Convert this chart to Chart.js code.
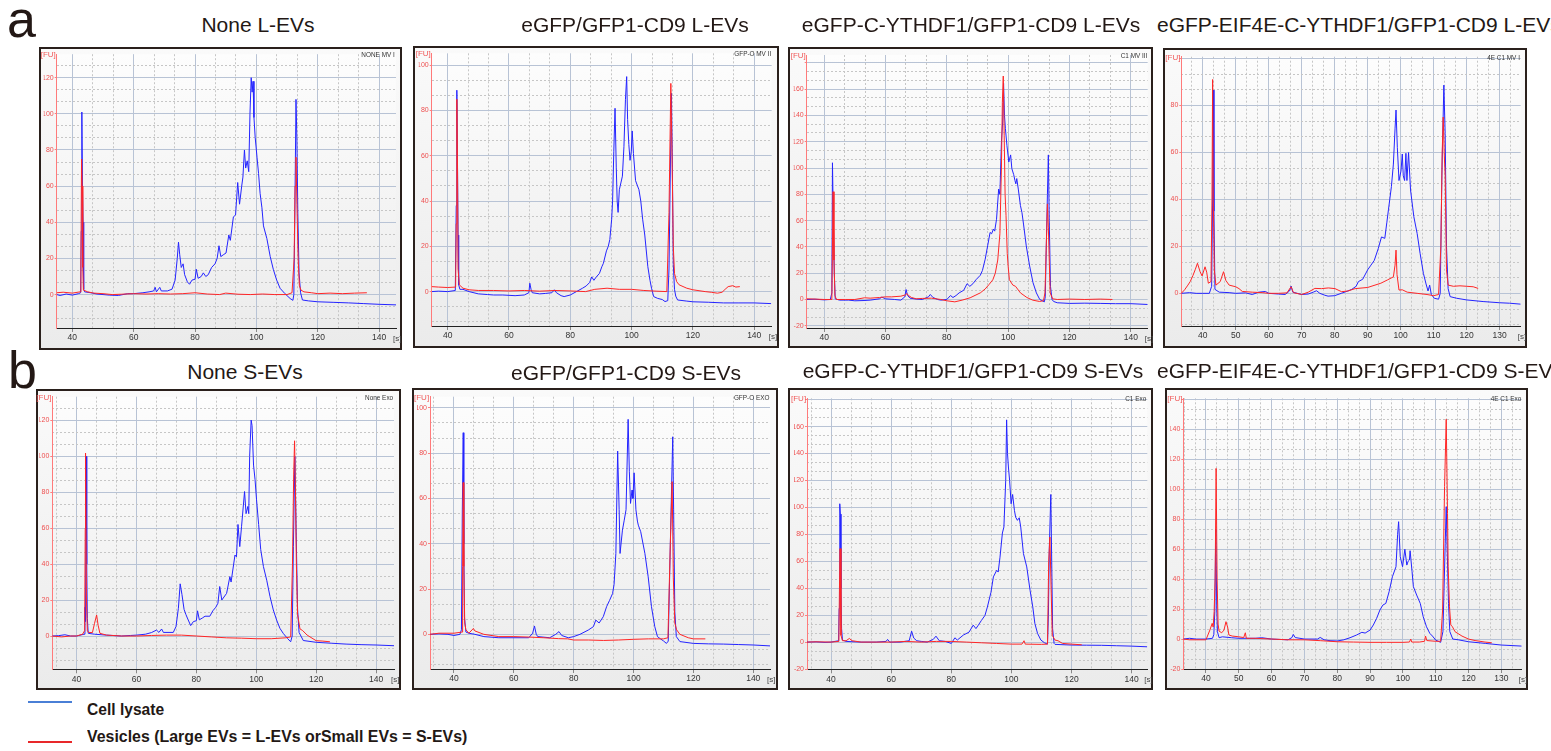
<!DOCTYPE html>
<html>
<head>
<meta charset="utf-8">
<script src="https://cdn.jsdelivr.net/npm/chart.js@4.4.1/dist/chart.umd.min.js"></script>
<style>
body{margin:0;width:1551px;height:751px;background:#fff;position:relative;overflow:hidden;font-family:"Liberation Sans",Arial,sans-serif}
.frame{position:absolute;border:2px solid #2a201c;box-sizing:border-box;background:linear-gradient(#fafafa,#ebebeb)}
.frame canvas{position:absolute;left:0;top:0}
.title{position:absolute;font-size:21px;line-height:21px;color:#231815;white-space:nowrap}
.letter{position:absolute;font-size:52px;line-height:52px;color:#231815}
.small{position:absolute;font-family:"Liberation Sans",sans-serif;font-size:8px;line-height:8px;white-space:nowrap}
.tag{color:#333;transform-origin:right top;transform:scaleX(0.8)}
.fu{color:#f05a5a}
.sec{color:#444}
.leg{position:absolute;font-weight:bold;font-size:17px;line-height:17px;color:#231815;white-space:nowrap;transform-origin:left top}
.legline{position:absolute;height:2px;width:44px;left:28px}
</style>
</head>
<body>
<div class="letter" style="left:7px;top:-7px">a</div>
<div class="letter" style="left:8px;top:344px">b</div>
<div class="legline" style="top:701px;background:#4a7fd6"></div>
<div class="legline" style="top:741px;background:#e8282a"></div>
<div class="leg" id="leg1" style="left:87px;top:701px">Cell lysate</div>
<div class="leg" id="leg2" style="left:87px;top:728px">Vesicles (Large EVs = L-EVs orSmall EVs = S-EVs)</div>
<script>
// tick labels
const xTicks20 = [40, 60, 80, 100, 120, 140];
const xTicks10 = [40, 50, 60, 70, 80, 90, 100, 110, 120, 130];
const yTicks120 = [0, 20, 40, 60, 80, 100, 120];
const yTicks100 = [0, 20, 40, 60, 80, 100];
const yTicks160 = [-20, 0, 20, 40, 60, 80, 100, 120, 140, 160];
const yTicks80 = [0, 20, 40, 60, 80];
const yTicks140 = [-20, 0, 20, 40, 60, 80, 100, 120, 140];

// [time s, FU]
const lysateNoneL = [[34.9,0],[36,-0.5],[38,0.3],[40,-0.3],[42,0.5],[42.7,1],[42.9,35],[43.1,101],[43.3,60],[43.5,40],[43.7,3],[44,1.5],[46,1],[48,0.3],[50,0],[52,-0.3],[55,-0.5],[58,0.5],[60,0.5],[63,1],[65,1.5],[66.5,2],[67,4],[67.4,1.5],[68.5,4],[69,2],[71,2],[72.5,3],[73.5,8],[74.2,20],[74.6,29],[75,22],[75.5,15],[76.1,17],[76.6,11],[77.5,7],[78.2,5.7],[79,8],[80,8.5],[80.4,14],[81,9],[82,10],[82.7,12],[83.5,10],[84.3,11],[85.4,15],[86.5,17],[87.2,20],[87.8,27],[88.4,21],[89.2,22],[90.1,23],[91,33],[91.5,30],[92.5,43],[93.2,44],[93.9,62],[94.5,50],[95.2,60],[95.6,65],[96.1,80],[96.5,70],[97,74],[97.5,68],[97.9,100],[98.3,120],[98.6,112],[98.9,118],[99.2,98],[99.6,87],[100.2,76],[100.7,67],[101.2,56],[101.8,48],[102.3,38],[103.4,31],[104.5,21],[105.5,14],[106.6,8],[107.7,3.5],[109.3,0.5],[111,-2.2],[111.9,-3.2],[112.2,0],[112.5,40],[112.9,108],[113.2,85],[113.5,45],[113.9,12],[114.4,1],[115,-3],[117,-3.5],[120,-4],[125,-4.3],[130,-4.6],[135,-5],[140,-5.4],[145.5,-5.7]];
const vesicleNoneL = [[34.9,1],[37,1.3],[40,0.8],[42.5,1.5],[42.8,20],[43,75],[43.2,60],[43.4,15],[43.6,2.5],[45,1.5],[47,0.8],[50,0.5],[53,0],[56,0.2],[60,0.5],[64,0.3],[68,0.5],[72,0.3],[76,0.5],[80,1],[84,0.3],[88,0],[90,0.8],[94,0.2],[98,0],[102,0.3],[106,0],[110,0],[111.6,1],[112.3,20],[112.6,60],[112.9,76],[113.2,50],[113.6,20],[114,5],[114.5,2.5],[115.5,1.5],[118,1],[120,0.5],[124,0.8],[128,0.5],[132,0.8],[136,1]];

const lysateGfpL = [[34.8,0],[37,0.2],[40,0],[42.5,0.5],[42.8,38],[43,89],[43.2,60],[43.4,25],[43.6,3],[44,1],[45,1],[47,0],[50,-1],[53,-1.3],[55,-1.5],[58,-1.5],[62,-1.8],[65,-1.5],[66.5,-0.5],[66.8,3.7],[67.2,1],[67.6,-0.5],[70,-1],[72,-0.8],[74,-0.5],[74.8,0.8],[75.5,-0.5],[77,-1.8],[78,-2.2],[80,-1.5],[82,0],[84,1.5],[85.2,2.5],[86.3,4],[87,6.5],[87.7,5],[88.5,6.5],[89.5,8],[90.3,11],[90.8,12.5],[91.8,18],[92.4,20],[92.9,23],[93.5,32],[93.8,40],[94.2,62],[94.6,81],[95,55],[95.3,40],[95.6,35],[96,45],[96.5,48],[97,51],[97.5,64],[98,85],[98.4,95],[98.7,76],[99.1,65],[99.5,58],[99.9,62],[100.2,71],[100.6,61],[101.3,49],[102.4,45],[103,40],[103.6,32],[104.3,25],[105.3,11],[106,5],[106.5,1.5],[107.2,-2.2],[108.5,-3],[110,-3.5],[110.9,-4.4],[111.8,-4],[112.2,10],[112.5,40],[113,87.6],[113.3,55],[113.6,12],[114,1],[114.4,-2],[115,-3.7],[118,-4.2],[120,-4.5],[125,-4.7],[130,-5],[135,-5],[140,-5],[145.5,-5.3]];
const vesicleGfpL = [[34.8,2.2],[37,2],[40,1.8],[42.6,2],[42.8,30],[43,85],[43.2,60],[43.4,10],[43.8,3],[45,1.5],[47,0.8],[50,0.5],[55,0.5],[60,0.3],[65,0.5],[70,0.2],[75,0.5],[80,0.3],[85,0],[88,1],[92,1.5],[96,1],[100,1],[104,0.5],[108,0.2],[111.5,0],[112.2,35],[112.8,92],[113.2,60],[113.6,20],[114,8],[114.7,4.4],[115.5,3],[118,1.5],[120,0.8],[124,0],[126,-0.3],[128,-0.7],[129.5,-0.3],[130.5,1],[131.5,2.2],[133,2.6],[134,2],[135.3,2.2]];

const lysateC1L = [[34.3,0],[37,0.2],[40,-0.3],[42,0],[42.5,5],[42.7,104],[43,60],[43.3,20],[43.6,0.5],[45,-0.5],[48,-0.5],[50,-1],[53,-0.8],[55,-0.5],[58,0.5],[58.8,1.8],[60,0.5],[63,0],[65,-0.5],[66.3,2],[66.7,7.6],[67.2,3],[68,1],[70,0.3],[72,0],[74,2],[74.6,3.8],[75.5,1.5],[77,0],[78,-0.5],[80,0],[81.2,3],[82,1.5],[83,3],[84,5],[85.5,7],[86.6,12],[87.5,10],[88.5,12],[89.5,15],[90.9,18.4],[91.6,22],[92.5,30.6],[93.3,40.8],[94.1,51],[94.6,50],[95.2,53.6],[95.6,52],[96.2,61],[96.9,84],[97.3,80],[97.8,120],[98.2,135],[98.5,164.5],[98.8,140],[99.1,130],[99.6,117],[100.2,104.6],[100.8,110],[101.2,99.5],[101.8,95],[102.2,90.6],[102.5,88],[102.8,92],[103.3,84],[104,71.4],[104.5,66],[105,57.4],[105.9,40.8],[107,25.5],[108.1,12.8],[109.2,5],[110.3,0],[111.8,-1.8],[112.1,2],[112.4,37],[112.8,80],[113.1,110],[113.4,60],[113.8,10],[114.3,0],[114.8,-1.5],[116,-2.5],[120,-3],[125,-2.8],[130,-3],[135,-3.2],[140,-3.2],[145.5,-3.8]];
const vesicleC1L = [[34.3,0.5],[37,0.3],[40,0],[42.5,0],[42.7,40],[42.9,82],[43.2,30],[43.5,3],[44,0],[47,0],[50,0],[53.2,1.3],[55,1],[58,1.5],[60,2],[62,2],[65,2.5],[66.5,3.5],[67,4.5],[67.5,3],[68.5,1.5],[70,0.5],[72,0.8],[75,1],[78,0],[80,-1],[82.6,-1.8],[85,-0.5],[87.6,1.3],[90.9,5],[92.5,8],[93.8,11.5],[95,15],[95.8,20],[96.6,30],[97.3,50],[97.8,100],[98.1,150],[98.4,170],[98.7,125],[99,80],[99.3,64],[99.7,35],[100,25],[100.4,15],[101.5,11],[102.4,10],[104,5],[106.1,1.5],[108,-0.5],[110.2,-1.5],[111.5,-1],[112,5],[112.3,30],[112.8,72.7],[113.1,55],[113.4,30],[113.7,5],[114.5,0.5],[116,0],[120,0.3],[125,0],[130,0.3],[134,0]];

const lysate4eL = [[33.5,0],[36,0.3],[38,0],[40,0],[42,0],[42.7,3],[43.0,40],[43.2,86.5],[43.4,35],[43.7,1.7],[45,0.5],[48,0.3],[50,0],[53,0.2],[55,-0.5],[57,0.5],[59,0.8],[60,0],[63,-0.3],[65,-0.5],[66.3,1],[66.8,3.1],[67.3,0.5],[70,-0.5],[72,-0.3],[73.5,0.5],[74.5,1.1],[75.5,0],[77,-0.8],[78,-1.2],[80,-1],[82,0],[84,1],[85.2,1.7],[86.5,3],[87.2,5],[88.5,6],[90,10],[91,12],[92,14],[93.2,19],[94.2,24],[95.2,23.4],[95.8,30],[96.3,35.5],[97.2,45.4],[97.8,55],[98.3,70],[98.6,78],[99,62],[99.5,48],[100.1,52],[100.5,59.3],[100.8,50],[101.2,48],[101.6,59.6],[101.9,48],[102.4,59.9],[103,44],[104,32.6],[105,25.5],[105.9,17],[106.9,8.5],[107.7,4],[108.3,1],[108.8,3.5],[109.3,-0.5],[110.2,-2.1],[111.5,-2.5],[112,0],[112.5,50],[113.1,88.6],[113.5,68],[113.9,20],[114.4,2],[115,-1.4],[117,-2.1],[120,-2.8],[125,-3.5],[130,-4],[133,-4.2],[136.4,-4.6]];
const vesicle4eL = [[33.5,0],[34.5,1.5],[35.5,3.5],[36.2,5],[37,7.5],[37.7,10],[38.4,12.8],[39.2,9.2],[39.8,7.4],[40.7,11.3],[41.2,9],[41.7,4.3],[42.5,5],[42.8,40],[43.0,91],[43.2,40],[43.5,10],[44,3.5],[45.3,5],[46.3,9.2],[47,5.5],[48,3.5],[50,2.8],[51,2],[52,0.8],[55,0.5],[58,0.3],[60,0],[63,0],[65.5,0.2],[66.8,2.8],[67.5,0.3],[70,-0.5],[72,0.5],[74,2.1],[76,2],[78.1,2.3],[80.1,2],[82.1,0.7],[84,1],[86.2,2],[90,2.5],[94,4.3],[96,5.7],[97.8,7],[98.3,12],[98.6,18.4],[98.9,8],[99.5,1.4],[100.5,1.5],[102,0.5],[105,0],[108,-0.5],[110,-1],[111.5,-0.5],[112.2,20],[112.6,60],[112.9,75],[113.2,60],[113.5,50],[113.9,10],[114.4,3.5],[116,3],[118,3.2],[120,3],[122,2.8],[123.5,2.1]];

const lysateNoneS = [[31.9,0],[34,0.2],[36.1,0.7],[38,0],[40,0],[42.5,1],[42.8,16],[43.0,8],[43.2,99.8],[43.4,40],[43.6,9.8],[43.9,1.5],[46,1],[50,0.5],[55,0],[58,0.3],[60,0.5],[63,1],[65,1.9],[66.7,3.3],[67.5,2],[68.4,3.9],[69,2],[72.3,2],[73.2,5.2],[74,15.4],[74.6,29],[75.2,23],[75.9,14.8],[76.5,12],[77,10],[78.1,5.8],[79,8],[80,8.5],[80.4,14],[81,9],[82,10],[82.9,11],[84.5,11],[85.5,14],[86.5,16],[87.2,18.2],[87.8,27.5],[88.5,20],[90.1,23.7],[91.2,33],[91.6,30],[92.9,45],[93.4,44],[93.9,62],[94.5,49.7],[95.1,61],[96.1,80.3],[96.6,68],[97.2,72],[97.5,68],[97.8,99.8],[98.3,120],[98.6,117],[99.1,95],[99.6,87],[100.1,75.7],[100.8,62],[101.5,48],[102.4,38.6],[103.5,31],[104.6,21.9],[105.7,14.5],[106.8,8.9],[107.9,4.3],[109,1.5],[110.4,-1.3],[111.5,-3.2],[112,0],[112.4,49.7],[112.9,99.8],[113.3,60],[113.8,15],[114.3,2],[115.7,-2.5],[120,-3.5],[125,-4],[130,-4.5],[135,-4.8],[140,-5],[146,-5.4]];
const vesicleNoneS = [[31.9,0],[35,-0.5],[38,0],[40,0],[42,1],[42.7,3],[42.9,60],[43.0,101.7],[43.3,20],[43.6,3],[44,2],[45.3,1.9],[46,7],[46.7,11.7],[47.2,6],[47.8,1.5],[50,0.5],[55,0],[60,0],[65,0.3],[70,0.5],[75,0.5],[80,0],[85,-0.5],[90,-1],[95,-1.2],[100,-1.5],[105,-1.5],[109.9,-1],[111.5,-0.5],[112.1,40],[112.5,90],[112.8,108.5],[113.1,80],[113.4,40],[113.8,12],[114.6,4],[115.5,3],[117,0.5],[120,-2.6],[122,-2.8],[124.6,-3.2]];

const lysateGfpS = [[32,0],[35,0.2],[38,0],[40,-0.5],[42,0],[42.5,2],[42.8,54.9],[43.1,89],[43.3,40],[43.5,7.8],[44,1],[45,0.5],[47,0],[50,-1],[55,-1.5],[60,-1.5],[65,-1.5],[66.3,0.5],[66.9,3.7],[67.5,0],[68,-1],[72,-1.5],[74,0],[75.1,1.2],[76,-0.5],[78.2,-1.5],[80,-1],[82.1,0],[84.9,1.9],[86.6,3.4],[87.4,6.3],[88.5,5],[89.9,7.8],[91,12.2],[92,15],[93,18],[93.5,22],[94.1,35.7],[94.7,80.9],[95.2,55],[95.5,35.7],[96.3,46],[96.9,50.4],[97.5,55],[98.2,94.9],[98.6,72],[99,57.8],[99.5,63.7],[99.8,60],[100.2,71.3],[100.8,55],[101.3,50],[101.6,48.2],[102.4,45.3],[103.8,35.7],[104.9,25.4],[106,12.2],[107.1,3.4],[108,-1],[109,-2],[110,-2.9],[111,-4],[111.6,-3],[112.3,40],[113.1,87.2],[113.4,55],[113.8,10],[114.3,-1],[115.5,-3.2],[120,-4],[125,-4.2],[130,-4.3],[135,-4.5],[140,-4.7],[145.6,-5.1]];
const vesicleGfpS = [[32,0],[35,0.5],[40,0.5],[42.7,1],[42.9,30],[43.1,67],[43.3,30],[43.6,5],[44,2],[45,0.5],[46.5,2.6],[47,1.5],[50,0],[55,-1],[60,-1],[65,-1.2],[70,-1.5],[75,-1.9],[78,-2],[80,-2.5],[85,-2.5],[90,-2.7],[95,-2.5],[100,-2.2],[105,-2],[110,-2],[111.5,-1.5],[112.3,40],[112.9,67.4],[113.3,25],[113.8,5],[114.4,2],[115.5,0],[118.3,-1.5],[120,-2],[124,-2]];

const lysateC1S = [[32,0],[35,0.2],[38,-0.2],[40,0],[42.5,1],[42.7,25],[42.9,102.7],[43.1,95],[43.3,40],[43.5,10],[43.8,1.5],[45,0.5],[48,0.2],[50,0],[55,0],[58.3,0.5],[58.8,2],[59.5,0],[63,0],[66,1],[66.8,8.1],[67.5,3],[68.5,1],[70,0.5],[72,0],[74,2],[74.9,4.4],[76,1],[78,0.5],[80,-1],[81.2,3.2],[82,1.5],[84,5.2],[85.9,7.4],[87.3,12.6],[88.2,10],[89,12.6],[90,16],[91.2,19.8],[92,26],[93.2,37],[94,48.4],[95.1,53.3],[95.6,52],[96.2,63],[97,81],[97.5,85.4],[98.1,120],[98.4,165],[98.7,140],[99,130],[99.4,120],[99.9,102.7],[100.4,109.6],[101,97.8],[101.4,92.8],[102,90.4],[102.6,92.3],[103.1,85.4],[104,65.7],[105.1,55.8],[106.2,38.5],[107.1,26.2],[107.8,13.8],[108.7,6.4],[109.8,1.5],[111,-0.5],[112,-1.5],[112.3,20],[112.6,69.4],[113.1,109.6],[113.4,60],[113.7,10],[114.2,-1],[114.5,-1.7],[120,-2.2],[125,-2.3],[130,-2.4],[135,-2.7],[140,-3],[145.2,-3.5]];
const vesicleC1S = [[32,0],[35,0.2],[40,0],[42.6,0.5],[42.8,40],[43.0,69.4],[43.3,5],[43.8,1],[45,1],[46.1,2.7],[47,1],[50,0],[55,0],[60,0],[65,0.5],[70,0],[75,0.5],[80,0.5],[85,0],[90,-0.5],[95,-1],[100,-1.5],[103.5,-1.5],[104.2,1],[104.6,-1.5],[110,-1.7],[112,-1.5],[112.4,60],[112.8,78],[113.2,40],[113.6,5],[114.5,1.5],[115.5,1],[117,-1],[120,-1.5],[123.4,-2]];

const lysate4eS = [[33.1,0],[35,0.5],[37,0],[40,0],[42,0.5],[42.4,3],[42.7,18.3],[43.0,73.3],[43.3,20],[43.5,4.9],[44,0.9],[45,1.5],[47.8,0.9],[50,0.5],[55,0.5],[57,0.9],[60,0],[65,-0.5],[66.2,1],[66.6,3.1],[67.2,1],[70,0],[74,0],[74.8,1.1],[76,-0.5],[77.8,-1.1],[80,-1.3],[82,-0.5],[83.9,0.9],[85.9,2.7],[87.5,4.5],[88.5,4],[90,6],[91,9.4],[92,13.8],[93,19.4],[93.9,22.7],[94.8,23.8],[95.8,31.6],[96.8,41.6],[97.9,48.3],[98.4,70],[98.7,78.4],[99.2,55],[99.9,48.3],[100.6,60],[101.2,49.4],[101.6,52],[102,52.8],[102.2,59],[102.8,45],[103.2,35],[104.2,29.4],[105.3,23.8],[106.2,14.9],[107.2,8.2],[108.2,3.8],[109,2],[110,-0.7],[111.5,-2.2],[112.2,5],[112.9,64],[113.2,88.4],[113.5,60],[113.9,23.8],[114.3,5],[115.2,0],[116.9,-0.5],[120,-1.8],[125.1,-2.9],[130,-4],[136.2,-4.7]];
const vesicle4eS = [[33.1,0],[35,-0.5],[40,-0.5],[41.2,6],[41.9,10.5],[42.2,8],[42.5,18.3],[42.8,40],[43.1,114],[43.4,40],[43.7,10],[44,5.3],[44.8,4.2],[45.5,6],[46.1,11.6],[46.6,8],[47,2.7],[48,2],[50,1.5],[51.5,1],[52,4.2],[52.3,0.5],[54.9,0.5],[60,0],[65,-0.5],[70,-0.5],[75,-1.1],[80,-1.8],[85,-2],[90,-2.2],[95,-2.2],[100,-2.2],[102,-2],[102.4,0],[102.7,-2],[105,-2],[106.6,-1.5],[106.9,2],[107.3,-1],[110,-1.5],[111.5,-1.5],[112.1,19.4],[112.7,101.8],[113.2,146.8],[113.6,84],[113.8,48.3],[114.2,21.6],[114.6,9.4],[115.1,8.2],[115.9,4.9],[118,2],[120,0],[122,-1],[125,-2],[127.1,-2.5]];

// panel layout: frame box [x,y,w,h], plot area [l,t,r,b] in page px
const panels = [
  {box:[39,47,363,303], area:[56.7,54,396,328], xr:[34.9,145.5], xStep:20, xLabels:xTicks20, yr:[-18.5,133], yLabels:yTicks120, blue:lysateNoneL, red:vesicleNoneL, title:'None L-EVs', tx:258, ty:14, tag:'NONE MV I'},
  {box:[413,46,366,302], area:[431.7,53.3,771.7,326], xr:[34.8,145.7], xStep:20, xLabels:xTicks20, yr:[-15.2,105.3], yLabels:yTicks100, blue:lysateGfpL, red:vesicleGfpL, title:'eGFP/GFP1-CD9 L-EVs', tx:635, ty:14, tag:'GFP-O MV II'},
  {box:[788,47,365,301], area:[806.7,55,1147.7,328], xr:[34.3,145.5], xStep:20, xLabels:xTicks20, yr:[-21.7,186], yLabels:yTicks160, blue:lysateC1L, red:vesicleC1L, title:'eGFP-C-YTHDF1/GFP1-CD9 L-EVs', tx:971, ty:14, tag:'C1 MV III'},
  {box:[1163,48,364,300], area:[1181.3,56.7,1520.7,326], xr:[33.5,136.4], xStep:10, xLabels:xTicks10, yr:[-13.9,100.7], yLabels:yTicks80, blue:lysate4eL, red:vesicle4eL, title:'eGFP-EIF4E-C-YTHDF1/GFP1-CD9 L-EVs', tl:1157, ty:14, tag:'4E C1 MV I'},
  {box:[36,389,365,301], area:[52.3,396.7,394,669.3], xr:[31.9,146], xStep:20, xLabels:xTicks20, yr:[-18.5,133], yLabels:yTicks120, blue:lysateNoneS, red:vesicleNoneS, title:'None S-EVs', tx:245, ty:361, tag:'None Exo'},
  {box:[412,388,366,302], area:[430,396.7,770,669], xr:[32,145.6], xStep:20, xLabels:xTicks20, yr:[-15.3,104.9], yLabels:yTicks100, blue:lysateGfpS, red:vesicleGfpS, title:'eGFP/GFP1-CD9 S-EVs', tx:626, ty:362, tag:'GFP-O EXO'},
  {box:[788,388,365,302], area:[807,398.3,1147.3,669.3], xr:[32,145.2], xStep:20, xLabels:xTicks20, yr:[-20.2,181], yLabels:yTicks160, blue:lysateC1S, red:vesicleC1S, title:'eGFP-C-YTHDF1/GFP1-CD9 S-EVs', tx:973, ty:360, tag:'C1 Exo'},
  {box:[1165,388,363,302], area:[1183.3,398.3,1521.7,669], xr:[33.1,136.2], xStep:10, xLabels:xTicks10, yr:[-20,160.8], yLabels:yTicks140, blue:lysate4eS, red:vesicle4eS, title:'eGFP-EIF4E-C-YTHDF1/GFP1-CD9 S-EVs', tl:1157, ty:360, tag:'4E C1  Exo'}
];

const xFont = {family: "'Liberation Sans',sans-serif", size: 8.5};
const yFont = {family: "'Liberation Sans',sans-serif", size: 7};
const majorGrid = '#b8c3d5';
const minorGrid = '#c6c6c6';
const onStep = (v, s) => Math.abs(v / s - Math.round(v / s)) < 1e-6;

// ticks at every multiple of step inside the axis range
function stepTicks(step) {
  return scale => {
    const out = [];
    for (let k = Math.ceil(scale.min / step - 1e-9); k * step <= scale.max + 1e-9; k++) {
      out.push({value: Math.round(k * step * 1e6) / 1e6});
    }
    scale.ticks = out;
  };
}

const areaFill = {
  id: 'areaFill',
  beforeDraw(chart) {
    const {ctx, chartArea: a} = chart;
    const g = ctx.createLinearGradient(0, a.top, 0, a.bottom);
    g.addColorStop(0, '#fdfdfd');
    g.addColorStop(1, '#ececec');
    ctx.save();
    ctx.fillStyle = g;
    ctx.fillRect(a.left, a.top, a.right - a.left, a.bottom - a.top);
    ctx.restore();
  }
};

function addDiv(cls, text, style) {
  const d = document.createElement('div');
  d.className = cls;
  d.textContent = text;
  Object.assign(d.style, style);
  document.body.appendChild(d);
  return d;
}

panels.forEach(p => {
  const [bx, by, bw, bh] = p.box;
  const [al, at, ar, ab] = p.area;
  const frame = document.createElement('div');
  frame.className = 'frame';
  Object.assign(frame.style, {left: bx + 'px', top: by + 'px', width: bw + 'px', height: bh + 'px'});
  const cv = document.createElement('canvas');
  const W = bw - 4, H = bh - 4;
  cv.width = W; cv.height = H;
  frame.appendChild(cv);
  document.body.appendChild(frame);

  const ox = bx + 2, oy = by + 2, yW = 13, xH = 16;
  const pad = {left: al - ox - yW, top: at - oy, right: ox + W - ar, bottom: oy + H - ab - xH};

  new Chart(cv, {
    type: 'line',
    data: {
      datasets: [
        {label: 'Vesicles', data: p.red, borderColor: '#ff2626', borderWidth: 1, pointRadius: 0, order: 0},
        {label: 'Cell lysate', data: p.blue, borderColor: '#2424ff', borderWidth: 1, pointRadius: 0, order: 1}
      ]
    },
    options: {
      responsive: false,
      animation: false,
      events: [],
      layout: {padding: pad},
      plugins: {legend: {display: false}, tooltip: {enabled: false}},
      scales: {
        x: {
          type: 'linear', position: 'bottom', min: p.xr[0], max: p.xr[1],
          afterFit: s => { s.height = xH; },
          afterBuildTicks: stepTicks(p.xStep),
          ticks: {autoSkip: false, maxRotation: 0, padding: 1, font: xFont, color: '#333',
                  callback: v => p.xLabels.includes(v) ? String(v) : ''},
          grid: {color: majorGrid, tickLength: 4, tickColor: '#888'},
          border: {color: '#222', width: 1}
        },
        xm: {
          type: 'linear', position: 'bottom', min: p.xr[0], max: p.xr[1],
          afterFit: s => { s.height = 0; },
          afterBuildTicks: stepTicks(p.xStep / 3),
          ticks: {display: false},
          grid: {drawTicks: false, color: c => onStep(c.tick.value, p.xStep) ? 'rgba(0,0,0,0)' : minorGrid},
          border: {display: false, dash: [2, 2]}
        },
        y: {
          type: 'linear', position: 'left', min: p.yr[0], max: p.yr[1],
          afterFit: s => { s.width = yW; },
          afterBuildTicks: stepTicks(20),
          ticks: {autoSkip: false, padding: 1, font: yFont, color: '#ee5050',
                  callback: v => p.yLabels.includes(v) ? String(v) : ''},
          grid: {color: majorGrid, tickLength: 2, tickColor: '#ff8080'},
          border: {color: '#ff7a7a', width: 1}
        },
        ym: {
          type: 'linear', position: 'left', min: p.yr[0], max: p.yr[1],
          afterFit: s => { s.width = 0; },
          afterBuildTicks: stepTicks(20 / 3),
          ticks: {display: false},
          grid: {drawTicks: false, color: c => onStep(c.tick.value, 20) ? 'rgba(0,0,0,0)' : minorGrid},
          border: {display: false, dash: [2, 2]}
        }
      }
    },
    plugins: [areaFill]
  });

  // titles and small labels
  if (p.tl !== undefined) {
    addDiv('title', p.title, {left: p.tl + 'px', top: p.ty + 'px'});
  } else {
    addDiv('title', p.title, {left: p.tx + 'px', top: p.ty + 'px', transform: 'translateX(-50%)'});
  }
  const tag = addDiv('small tag', p.tag, {top: (at - 3) + 'px'});
  tag.style.left = (ar - 1 - tag.offsetWidth) + 'px';
  addDiv('small fu', '[FU]', {left: (al - 16) + 'px', top: (at - 3) + 'px'});
  addDiv('small sec', '[s]', {left: (ar - 3) + 'px', top: (ab + 7) + 'px'});
});

// fit legend text to the condensed widths of the figure
[['leg1', 77], ['leg2', 380]].forEach(([id, w]) => {
  const el = document.getElementById(id);
  el.style.transform = 'scaleX(' + (w / el.offsetWidth) + ')';
});
</script>
</body>
</html>
